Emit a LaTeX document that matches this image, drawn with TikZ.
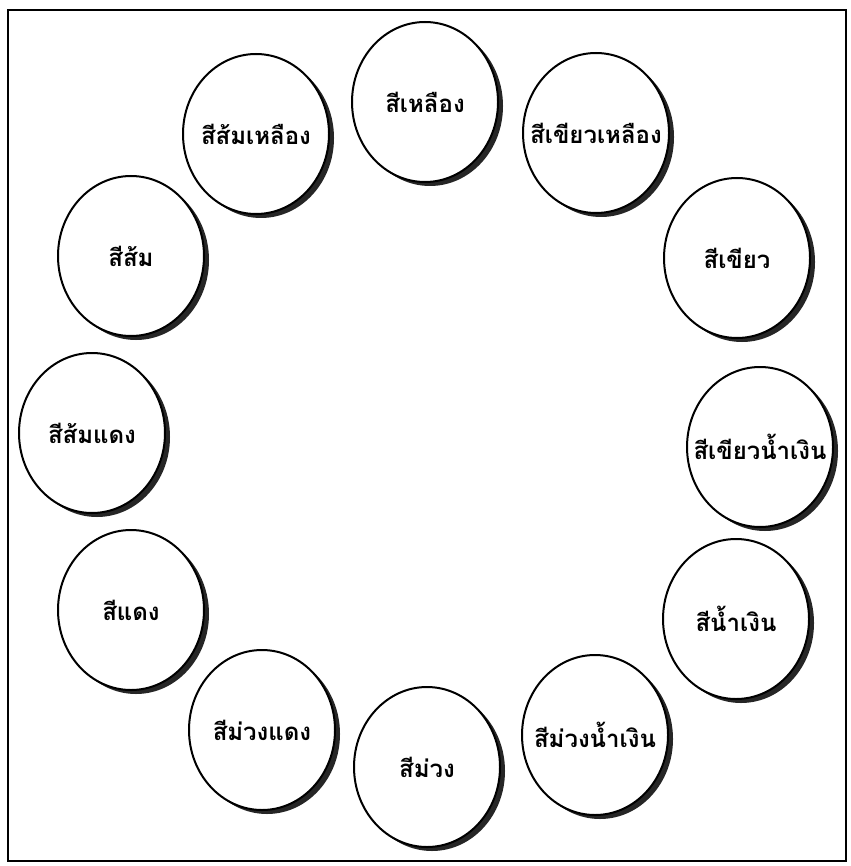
\documentclass[tikz,border=0pt]{standalone}
\usepackage{fontspec}
\newfontfamily\thaifont[Script=Thai]{Loma}
\usetikzlibrary{shapes.geometric,shadows}
\tikzset{
  colorball/.style={ellipse, draw=black, line width=2pt, fill=white,
    minimum width=146pt, minimum height=160pt, inner sep=0pt,
    drop shadow={shadow xshift=5pt, shadow yshift=-4pt, fill=black!85, opacity=1}},
  balltext/.style={font=\thaifont\bfseries\fontsize{24}{28}\selectfont, inner sep=0pt},
  frameline/.style={draw=black, line width=2.2pt}
}
\newcommand{\colorcircle}[3]{%
  \node[colorball] (#1) at (#2) {};
  \node[balltext] (#1-text) at (#1.center) {#3};}
\begin{document}
\begin{tikzpicture}[x=1pt,y=-1pt]
\useasboundingbox[fill=white] (0,0) rectangle (850,866);
\draw[frameline] (8,10) rectangle (846,861);
\colorcircle{yellow}{425,102}{สีเหลือง}
\colorcircle{yellowgreen}{596,133}{สีเขียวเหลือง}
\colorcircle{green}{737,258}{สีเขียว}
\colorcircle{bluegreen}{760,447}{สีเขียวน้ำเงิน}
\colorcircle{blue}{736,619}{สีน้ำเงิน}
\colorcircle{blueviolet}{595,735}{สีม่วงน้ำเงิน}
\colorcircle{violet}{427,767}{สีม่วง}
\colorcircle{redviolet}{262,730}{สีม่วงแดง}
\colorcircle{red}{131,610}{สีแดง}
\colorcircle{redorange}{92,433}{สีส้มแดง}
\colorcircle{orange}{131,256}{สีส้ม}
\colorcircle{yelloworange}{256,134}{สีส้มเหลือง}
\end{tikzpicture}
\end{document}
